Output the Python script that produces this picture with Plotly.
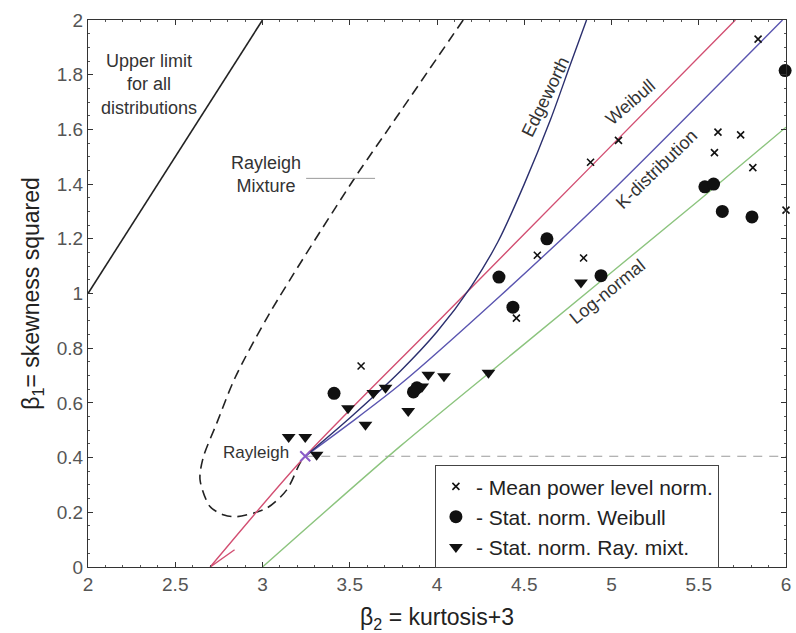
import plotly.graph_objects as go

# ---- data ----
upper_x = [2.0, 3.0]
upper_y = [1.0, 2.0]

weibull_x = [2.70, 3.245, 4.0, 4.88, 5.71]
weibull_y = [0.0, 0.405, 0.894, 1.463, 2.0]
weibull2_x = [2.70, 2.84]
weibull2_y = [0.0, 0.063]

kdist_x = [3.245, 3.5, 3.788, 4.36, 4.953, 5.98]
kdist_y = [0.405, 0.525, 0.667, 0.99, 1.344, 2.0]

edge_x = [3.245, 3.5, 3.788, 4.0, 4.2, 4.35, 4.5, 4.65, 4.76, 4.857]
edge_y = [0.405, 0.545, 0.715, 0.86, 1.03, 1.19, 1.40, 1.635, 1.83, 2.0]

lognorm_x = [3.0, 3.788, 4.5, 5.507, 6.0]
lognorm_y = [0.0, 0.441, 0.815, 1.344, 1.608]

raymix_x = [4.15, 3.721, 3.530, 3.043, 2.842, 2.738, 2.66, 2.642, 2.699, 2.78, 2.852, 3.024, 3.139, 3.215, 3.245]
raymix_y = [2.0, 1.601, 1.424, 0.930, 0.691, 0.526, 0.40, 0.319, 0.221, 0.19, 0.184, 0.215, 0.282, 0.380, 0.405]

rayleigh_hline_x = [3.245, 6.0]
rayleigh_hline_y = [0.405, 0.405]

rayleigh_pt_x = [3.245]
rayleigh_pt_y = [0.405]

cross_x = [5.84, 5.04, 4.88, 5.61, 5.74, 5.59, 5.81, 6.00, 4.575, 4.84, 4.455, 3.565]
cross_y = [1.93, 1.56, 1.48, 1.59, 1.58, 1.515, 1.46, 1.305, 1.14, 1.13, 0.91, 0.735]

circle_x = [5.995, 5.535, 5.585, 5.635, 5.805, 4.63, 4.355, 4.94, 4.435, 3.41, 3.865, 3.885]
circle_y = [1.815, 1.39, 1.40, 1.30, 1.28, 1.20, 1.06, 1.065, 0.95, 0.635, 0.64, 0.655]

tri_x = [3.15, 3.245, 3.31, 3.49, 3.59, 3.635, 3.705, 3.835, 3.915, 3.95, 4.04, 4.295, 4.825]
tri_y = [0.475, 0.475, 0.41, 0.58, 0.52, 0.636, 0.655, 0.57, 0.66, 0.703, 0.697, 0.71, 1.04]

x_ticks = [2, 2.5, 3, 3.5, 4, 4.5, 5, 5.5, 6]
x_tick_text = ["2", "2.5", "3", "3.5", "4", "4.5", "5", "5.5", "6"]
y_ticks = [0, 0.2, 0.4, 0.6, 0.8, 1, 1.2, 1.4, 1.6, 1.8, 2]
y_tick_text = ["0", "0.2", "0.4", "0.6", "0.8", "1", "1.2", "1.4", "1.6", "1.8", "2"]

FONT = "Liberation Sans, Arial, sans-serif"

fig = go.Figure()

def line(x, y, color, width=1.4, dash=None, shape="linear"):
    fig.add_trace(go.Scatter(x=x, y=y, mode="lines", showlegend=False, hoverinfo="skip",
                             line=dict(color=color, width=width, dash=dash, shape=shape, smoothing=0.8)))

line(upper_x, upper_y, "#222222", 1.6)
line(raymix_x, raymix_y, "#222222", 1.6, dash="10px,6px", shape="spline")
line(rayleigh_hline_x, rayleigh_hline_y, "#9a9a9a", 1.2, dash="9px,7px")
line(lognorm_x, lognorm_y, "#8cc47e", 1.4, shape="spline")
line(kdist_x, kdist_y, "#5a55b0", 1.4, shape="spline")
line(weibull_x, weibull_y, "#d24f72", 1.4, shape="spline")
line(weibull2_x, weibull2_y, "#d24f72", 1.4)
line(edge_x, edge_y, "#2b2f6e", 1.4, shape="spline")

# Rayleigh reference mark
fig.add_trace(go.Scatter(x=rayleigh_pt_x, y=rayleigh_pt_y, mode="markers", showlegend=False,
                         marker=dict(symbol="x-thin", size=10, line=dict(color="#8a5cc8", width=2))))

# measured data
fig.add_trace(go.Scatter(x=cross_x, y=cross_y, mode="markers", name="- Mean power level norm.",
                         cliponaxis=False,
                         marker=dict(symbol="x-thin", size=7, color="#111", line=dict(color="#111", width=1.6))))
fig.add_trace(go.Scatter(x=circle_x, y=circle_y, mode="markers", name="- Stat. norm. Weibull",
                         cliponaxis=False,
                         marker=dict(symbol="circle", size=13, color="#111")))
fig.add_trace(go.Scatter(x=tri_x, y=tri_y, mode="markers", name="- Stat. norm. Ray. mixt.",
                         cliponaxis=False,
                         marker=dict(symbol="triangle-down", size=12, color="#111")))

txt = dict(family=FONT, size=18, color="#333333")
ann = [
    dict(x=2.35, y=1.765, text="Upper limit<br>for all<br>distributions", showarrow=False, font=txt, align="center"),
    dict(x=3.02, y=1.436, text="Rayleigh<br>Mixture", showarrow=False, font=txt, align="center"),
    dict(x=4.62, y=1.72, text="Edgeworth", showarrow=False, font=txt, textangle=-64),
    dict(x=5.11, y=1.70, text="Weibull", showarrow=False, font=txt, textangle=-41),
    dict(x=5.26, y=1.455, text="K-distribution", showarrow=False, font=txt, textangle=-44),
    dict(x=4.975, y=1.005, text="Log-normal", showarrow=False, font=txt, textangle=-39),
    dict(x=2.965, y=0.418, text="Rayleigh", showarrow=False, font=dict(family=FONT, size=17, color="#333333")),
]
fig.update_layout(annotations=ann)

# pointer line for Rayleigh Mixture label
fig.add_shape(type="line", x0=3.25, x1=3.645, y0=1.421, y1=1.421, line=dict(color="#999999", width=1))

axis_common = dict(showline=True, linecolor="#333333", linewidth=1, mirror="allticks",
                   ticks="inside", ticklen=5, tickcolor="#333333", showgrid=False, zeroline=False,
                   automargin=False,
                   tickfont=dict(family=FONT, size=19, color="#555555"),
                   minor=dict(ticks="inside", ticklen=2, tickcolor="#555555", nticks=10, showgrid=False))

fig.update_xaxes(range=[2, 6], tickvals=x_ticks, ticktext=x_tick_text,
                 title=dict(text="β<sub>2</sub> = kurtosis+3", font=dict(family=FONT, size=23, color="#222"), standoff=18),
                 **axis_common)
fig.update_yaxes(range=[0, 2], tickvals=y_ticks, ticktext=y_tick_text,
                 title=dict(text="β<sub>1</sub>= skewness squared", font=dict(family=FONT, size=23, color="#222"), standoff=10),
                 **axis_common)

fig.update_layout(
    width=796, height=633,
    margin=dict(l=88, r=10, t=20, b=66, autoexpand=False),
    plot_bgcolor="white", paper_bgcolor="white",
    legend=dict(x=0.497, y=0.186, xanchor="left", yanchor="top",
                bordercolor="#444444", borderwidth=1, bgcolor="white",
                font=dict(family=FONT, size=21, color="#222"),
                itemwidth=30, tracegroupgap=0),
)

fig.write_html("out.html", config={"displayModeBar": False},
               post_script="document.body.style.margin='0px';document.body.style.overflow='hidden';")
